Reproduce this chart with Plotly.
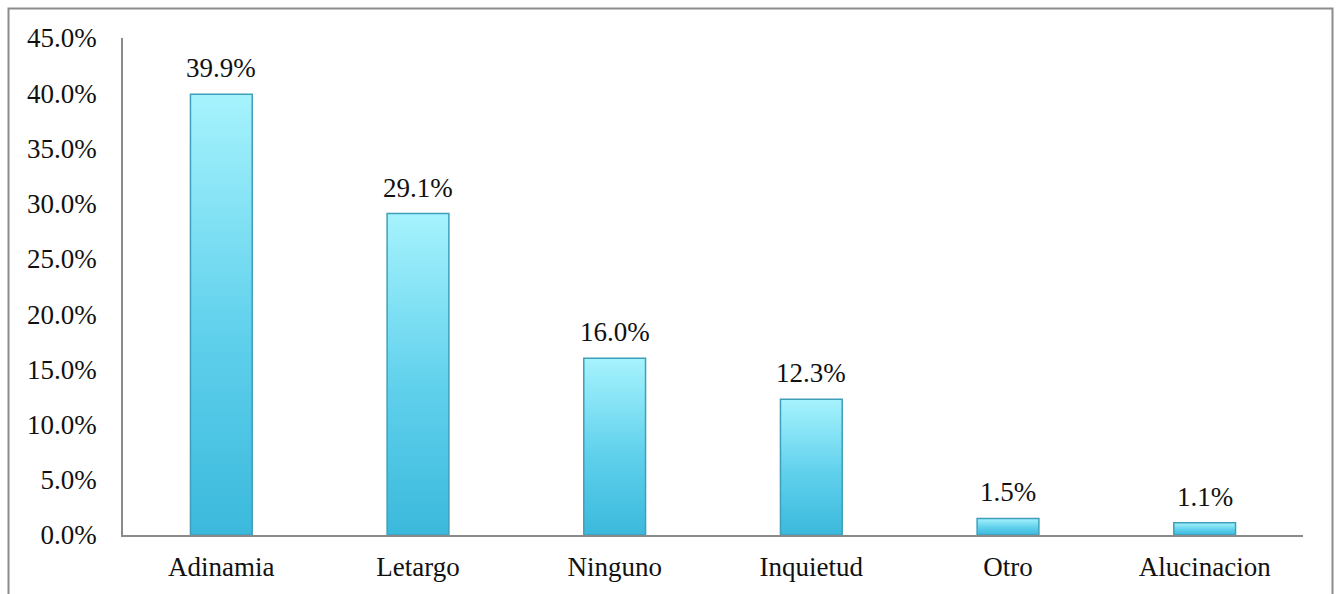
import plotly.graph_objects as go

# Síntomas reportados (porcentaje de pacientes)
categories = ["Adinamia", "Letargo", "Ninguno", "Inquietud", "Otro", "Alucinacion"]
values = [39.9, 29.1, 16.0, 12.3, 1.5, 1.1]
y_ticks = [0, 5, 10, 15, 20, 25, 30, 35, 40, 45]
y_tick_labels = [f"{t:.1f}%" for t in y_ticks]

FONT = "Liberation Serif"
FONT_SIZE = 27
W, H = 1337, 594
M_L, M_R, M_T, M_B = 123, 34, 38, 59
BAR_HALF = 0.157

fig = go.Figure()

# Each bar is a filled polygon so it can carry its own vertical gradient
for i, v in enumerate(values):
    x0, x1 = i - BAR_HALF, i + BAR_HALF
    fig.add_trace(go.Scatter(
        x=[x0, x0, x1, x1, x0],
        y=[0, v, v, 0, 0],
        mode="lines",
        fill="toself",
        fillgradient=dict(
            type="vertical",
            colorscale=[[0.0, "#3bb9dc"], [0.45, "#5fd0ec"], [1.0, "#a6f3fd"]],
        ),
        line=dict(color="#3f9fba", width=1.5),
        hoverinfo="skip",
        showlegend=False,
    ))

# Value labels above each bar
for i, v in enumerate(values):
    fig.add_annotation(
        x=i, y=v, text=f"{v:.1f}%", showarrow=False,
        xanchor="center", yanchor="bottom", yshift=9,
        font=dict(family=FONT, size=FONT_SIZE, color="#111111"),
    )

# Outer chart frame (extends past the bottom edge of the page)
pw = W - M_L - M_R
ph = H - M_T - M_B
fig.add_shape(
    type="rect", xref="paper", yref="paper",
    x0=(8.5 - M_L) / pw, x1=(1332.5 - M_L) / pw,
    y0=(H - M_B - 620) / ph, y1=(H - M_B - 8.5) / ph,
    line=dict(color="#8c8c8c", width=2), fillcolor="rgba(0,0,0,0)",
    layer="below",
)

fig.update_layout(
    width=W, height=H,
    margin=dict(l=M_L, r=M_R, t=M_T, b=M_B, autoexpand=False),
    paper_bgcolor="white", plot_bgcolor="white",
    font=dict(family=FONT, size=FONT_SIZE, color="#111111"),
    xaxis=dict(
        range=[-0.5, len(categories) - 0.5],
        tickmode="array", tickvals=list(range(len(categories))), ticktext=categories,
        showgrid=False, zeroline=False, showline=True,
        linecolor="#8a8a8a", linewidth=1.5, ticks="",
        ticklabelstandoff=7, automargin=False, fixedrange=True,
    ),
    yaxis=dict(
        range=[0, 45],
        tickmode="array", tickvals=y_ticks, ticktext=y_tick_labels,
        showgrid=False, zeroline=False, showline=True,
        linecolor="#8a8a8a", linewidth=1.5, ticks="",
        ticklabelstandoff=19, automargin=False, fixedrange=True,
    ),
)

fig.write_html("out.html")
